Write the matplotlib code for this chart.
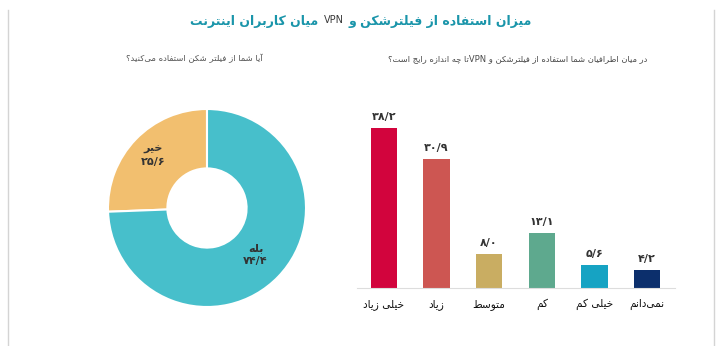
import re
import numpy as np
import matplotlib
matplotlib.use('Agg')
import matplotlib.pyplot as plt
from matplotlib.lines import Line2D

plt.rcParams['font.family'] = ['DejaVu Sans']

# ---------- data ----------
pie_labels = ['خیر', 'بله']
pie_values = [25.6, 74.4]
pie_colors = ['#F2BF6F', '#47BFCB']

bar_labels = ['خیلی زیاد', 'زیاد', 'متوسط', 'کم', 'خیلی کم', 'نمی‌دانم']
bar_values = [38.2, 30.9, 8.0, 13.1, 5.6, 4.2]
bar_colors = ['#D2043D', '#CD5652', '#C9AD62', '#5EA98E', '#16A3C3', '#0C2F6C']

title_right = 'میزان استفاده از فیلترشکن و'
title_mid = 'VPN'
title_left = 'میان کاربران اینترنت'
sub_left = 'آیا شما از فیلتر شکن استفاده می‌کنید؟'
sub_right = 'در میان اطرافیان شما استفاده از فیلترشکن و VPNتا چه اندازه رایج است؟'

# ---------- simple persian shaping (matplotlib has no arabic shaping) ----------
FORMS = {
    'ا': (0xFE8D, 0xFE8E, None, None), 'آ': (0xFE81, 0xFE82, None, None),
    'ب': (0xFE8F, 0xFE90, 0xFE91, 0xFE92), 'پ': (0xFB56, 0xFB57, 0xFB58, 0xFB59),
    'ت': (0xFE95, 0xFE96, 0xFE97, 0xFE98), 'ث': (0xFE99, 0xFE9A, 0xFE9B, 0xFE9C),
    'ج': (0xFE9D, 0xFE9E, 0xFE9F, 0xFEA0), 'چ': (0xFB7A, 0xFB7B, 0xFB7C, 0xFB7D),
    'ح': (0xFEA1, 0xFEA2, 0xFEA3, 0xFEA4), 'خ': (0xFEA5, 0xFEA6, 0xFEA7, 0xFEA8),
    'د': (0xFEA9, 0xFEAA, None, None), 'ذ': (0xFEAB, 0xFEAC, None, None),
    'ر': (0xFEAD, 0xFEAE, None, None), 'ز': (0xFEAF, 0xFEB0, None, None),
    'ژ': (0xFB8A, 0xFB8B, None, None),
    'س': (0xFEB1, 0xFEB2, 0xFEB3, 0xFEB4), 'ش': (0xFEB5, 0xFEB6, 0xFEB7, 0xFEB8),
    'ص': (0xFEB9, 0xFEBA, 0xFEBB, 0xFEBC), 'ض': (0xFEBD, 0xFEBE, 0xFEBF, 0xFEC0),
    'ط': (0xFEC1, 0xFEC2, 0xFEC3, 0xFEC4), 'ظ': (0xFEC5, 0xFEC6, 0xFEC7, 0xFEC8),
    'ع': (0xFEC9, 0xFECA, 0xFECB, 0xFECC), 'غ': (0xFECD, 0xFECE, 0xFECF, 0xFED0),
    'ف': (0xFED1, 0xFED2, 0xFED3, 0xFED4), 'ق': (0xFED5, 0xFED6, 0xFED7, 0xFED8),
    'ک': (0xFB8E, 0xFB8F, 0xFB90, 0xFB91), 'گ': (0xFB92, 0xFB93, 0xFB94, 0xFB95),
    'ل': (0xFEDD, 0xFEDE, 0xFEDF, 0xFEE0), 'م': (0xFEE1, 0xFEE2, 0xFEE3, 0xFEE4),
    'ن': (0xFEE5, 0xFEE6, 0xFEE7, 0xFEE8), 'و': (0xFEED, 0xFEEE, None, None),
    'ه': (0xFEE9, 0xFEEA, 0xFEEB, 0xFEEC), 'ی': (0xFBFC, 0xFBFD, 0xFBFE, 0xFBFF),
}


def shape(s):
    out = []
    chars = list(s)
    i = 0
    while i < len(chars):
        c = chars[i]
        if c not in FORMS:
            if c != '\u200c':
                out.append(c)
            i += 1
            continue
        prev = chars[i - 1] if i > 0 else ''
        join_prev = prev in FORMS and FORMS[prev][2] is not None
        nxt = chars[i + 1] if i + 1 < len(chars) else ''
        if c == 'ل' and nxt in ('ا', 'آ'):
            base = 0xFEFB if nxt == 'ا' else 0xFEF5
            out.append(chr(base + 1 if join_prev else base))
            i += 2
            continue
        join_next = FORMS[c][2] is not None and nxt in FORMS
        f = FORMS[c]
        if join_prev and join_next:
            code = f[3]
        elif join_prev:
            code = f[1]
        elif join_next:
            code = f[2]
        else:
            code = f[0]
        out.append(chr(code))
        i += 1
    return ''.join(out)


def fa(s):
    # shape then put into visual (left-to-right) order
    shaped = shape(s)
    runs = re.findall(r'[A-Za-z0-9]+|[^A-Za-z0-9]+', shaped)
    vis = [r if re.match(r'[A-Za-z0-9]', r) else r[::-1] for r in runs]
    return ''.join(vis[::-1])


def fa_num(v):
    digits = '۰۱۲۳۴۵۶۷۸۹'
    txt = f'{v:.1f}'.replace('.', '/')
    return ''.join(digits[int(ch)] if ch.isdigit() else ch for ch in txt)


# ---------- figure ----------
W, H = 719, 346
fig = plt.figure(figsize=(W / 100, H / 100), dpi=100)
fig.patch.set_facecolor('white')
renderer = fig.canvas.get_renderer()

# card border
for x in (7.5, 713.5):
    fig.add_artist(Line2D([x / W, x / W], [0, 1 - 10 / H], color='#d4d4d4', lw=1))

# title, three pieces laid out right to left around the centre
title_color = '#1A95AA'
t_r = fig.text(0, 1 - 21 / H, fa(title_right), ha='left', va='center',
               fontsize=9, weight='bold', color=title_color)
t_m = fig.text(0, 1 - 20 / H, title_mid, ha='left', va='center',
               fontsize=7, color='#3a3a3a')
t_l = fig.text(0, 1 - 21 / H, fa(title_left), ha='left', va='center',
               fontsize=9, weight='bold', color=title_color)
gap = 5
widths = [t.get_window_extent(renderer).width for t in (t_l, t_m, t_r)]
x = 361 - (sum(widths) + 2 * gap) / 2
for t, w in zip((t_l, t_m, t_r), widths):
    t.set_x(x / W)
    x += w + gap

# subtitles
fig.text(263 / W, 1 - 58 / H, fa(sub_left), ha='right', va='center',
         fontsize=6.1, color='#555555')
fig.text(647 / W, 1 - 59 / H, fa(sub_right), ha='right', va='center',
         fontsize=6.0, color='#4a4a4a')

# donut
cx, cy, R = 207, 208, 99
ax1 = fig.add_axes([(cx - R) / W, (H - cy - R) / H, 2 * R / W, 2 * R / H])
wedges, _ = ax1.pie(pie_values, colors=pie_colors, startangle=90, counterclock=True,
                    radius=1, wedgeprops=dict(width=0.6, edgecolor='white', linewidth=1.5))
ax1.set_xlim(-1, 1)
ax1.set_ylim(-1, 1)
ax1.set_aspect('equal')
ax1.axis('off')
for w, lab, val, rr in zip(wedges, pie_labels, pie_values, (0.76, 0.68)):
    ang = np.deg2rad((w.theta1 + w.theta2) / 2)
    ax1.text(rr * np.cos(ang), rr * np.sin(ang), fa(lab) + '\n' + fa_num(val),
             ha='center', va='center', fontsize=8, weight='bold', color='#333333',
             linespacing=1.4)

# bars
px_per_unit = 4.19
x0, x1 = 357, 675
base = 288
ymax = 40
ax2 = fig.add_axes([x0 / W, (H - base) / H, (x1 - x0) / W, ymax * px_per_unit / H])
xs = np.arange(len(bar_values))
bars = ax2.bar(xs, bar_values, width=0.5, color=bar_colors)
ax2.set_xlim(-0.51, 5.53)
ax2.set_ylim(0, ymax)
for b, v in zip(bars, bar_values):
    ax2.annotate(fa_num(v), (b.get_x() + b.get_width() / 2, v), xytext=(0, 6),
                 textcoords='offset pixels', ha='center', va='bottom',
                 fontsize=8, weight='bold', color='#333333')
ax2.set_xticks(xs)
ax2.set_xticklabels([fa(l) for l in bar_labels], fontsize=7.6, color='#111111')
ax2.tick_params(axis='x', length=0, pad=8)
ax2.set_yticks([])
for s in ('top', 'right', 'left'):
    ax2.spines[s].set_visible(False)
ax2.spines['bottom'].set_color('#dddddd')
ax2.set_facecolor('none')

plt.savefig('out.png', dpi=100, facecolor='white')
plt.close()
